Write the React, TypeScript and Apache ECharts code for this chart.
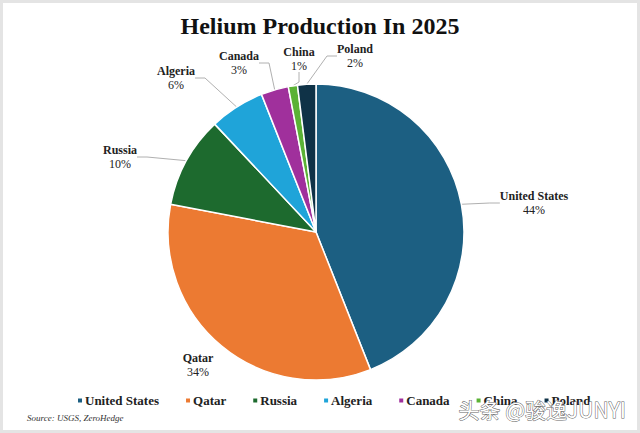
import React, { useEffect, useRef } from "react";
import * as echarts from "echarts";

const countries = ["United States", "Qatar", "Russia", "Algeria", "Canada", "China", "Poland"];
const shares = [44, 34, 10, 6, 3, 1, 2];
const colors = ["#1C5F82", "#EC7A32", "#1D6A2E", "#1FA4D9", "#A0309C", "#5BB235", "#0F3247"];

const labelPos: Record<number, [number, number]> = {
  0: [534, 203],
  1: [198, 365],
  2: [120, 157],
  3: [176, 78],
  4: [239, 63],
  5: [299, 59],
  6: [355, 56],
};

export default function App() {
  const ref = useRef<HTMLDivElement>(null);
  useEffect(() => {
    document.body.style.margin = "0";
    const chart = echarts.init(ref.current!, undefined, { renderer: "svg" });
    chart.setOption({
      animation: false,
      backgroundColor: "#ffffff",
      title: {
        text: "Helium Production In 2025",
        left: "center",
        top: 9,
        textStyle: {
          fontFamily: "Liberation Serif",
          fontWeight: "bold",
          fontSize: 24,
          color: "#111",
        },
      },
      legend: {
        data: countries,
        left: 76,
        top: 394,
        padding: 0,
        icon: "rect",
        itemWidth: 6,
        itemHeight: 6,
        itemGap: 25,
        textStyle: {
          fontFamily: "Liberation Serif",
          fontWeight: "bold",
          fontSize: 13,
          color: "#222",
          padding: [0, 0, 0, -3],
        },
      },
      graphic: [
        {
          type: "rect",
          shape: { x: 0, y: 0, width: 640, height: 433 },
          style: { fill: "none", stroke: "#e4e4e4", lineWidth: 6 },
          silent: true,
        },
        {
          type: "text",
          left: 27,
          top: 413,
          style: {
            text: "Source: USGS, ZeroHedge",
            fontFamily: "Liberation Serif",
            fontStyle: "italic",
            fontSize: 9,
            fill: "#333",
          },
        },
        {
          type: "text",
          left: 458,
          top: 398,
          z: 100,
          style: {
            text: "头条 @骏逸JUNYI",
            fontFamily: "Noto Sans CJK SC",
            fontSize: 21,
            fill: "#ffffff",
            stroke: "#666",
            lineWidth: 1,
          },
        },
      ],
      series: [
        {
          type: "pie",
          center: [316, 232],
          radius: 148,
          startAngle: 90,
          clockwise: true,
          data: countries.map((c, i) => ({
            name: c,
            value: shares[i],
            itemStyle: { color: colors[i] },
            labelLine: { show: i !== 1 },
          })),
          itemStyle: { borderColor: "#ffffff", borderWidth: 1.5 },
          label: {
            show: true,
            position: "outside",
            formatter: "{n|{b}}\n{p|{c}%}",
            align: "center",
            rich: {
              n: {
                fontFamily: "Liberation Serif",
                fontWeight: "bold",
                fontSize: 12,
                color: "#222",
                align: "center",
                lineHeight: 14,
              },
              p: {
                fontFamily: "Liberation Serif",
                fontSize: 12,
                color: "#222",
                align: "center",
                lineHeight: 14,
              },
            },
          },
          labelLine: {
            show: true,
            length: 10,
            length2: 10,
            lineStyle: { color: "#b0b0b0", width: 1 },
          },
          labelLayout: (params: any) => {
            const p = labelPos[params.dataIndex];
            return {
              x: p[0],
              y: p[1],
              align: "center",
              verticalAlign: "middle",
            };
          },
        },
      ],
    });
    return () => chart.dispose();
  }, []);
  return (
    <div
      ref={ref}
      style={{ position: "absolute", left: 0, top: 0, width: 640, height: 433 }}
    />
  );
}
